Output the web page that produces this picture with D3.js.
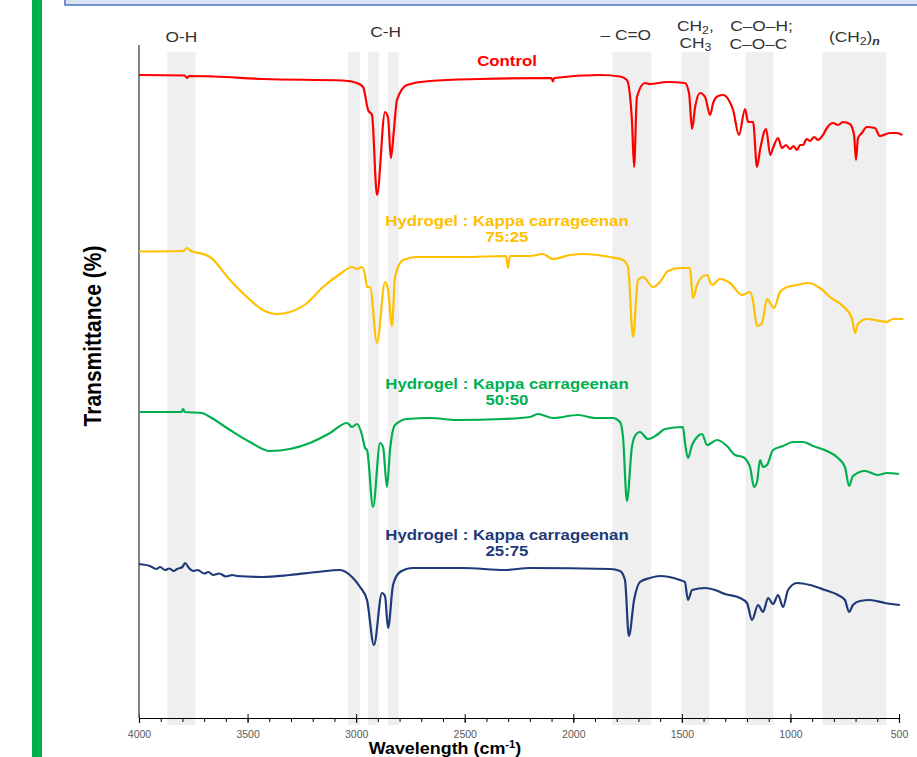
<!DOCTYPE html>
<html>
<head>
<meta charset="utf-8">
<script src="https://cdnjs.cloudflare.com/ajax/libs/d3/7.8.5/d3.min.js"></script>
<style>
  body { margin: 0; background: #fff; }
  svg { display: block; font-family: "Liberation Sans", Arial, sans-serif; }
</style>
</head>
<body>
<div id="chart"></div>
<script>
// FTIR spectra, [wavenumber cm-1, transmittance (a.u., stacked)]
var control = [
  [4000,128.6],[3790,128.5],[3779,128.0],[3770,128.4],[3659,128.3],[3429,127.8],[3061,127.5],
  [2996,127.0],[2968,126.2],[2945,121.6],[2927,120.6],[2904,104.6],[2867,121.2],[2853,120.0],
  [2840,112.0],[2826,117.6],[2812,123.6],[2766,126.6],[2660,127.4],[2430,127.8],[2100,128.0],
  [2094,127.3],[2088,128.0],[1877,128.6],[1785,128.3],[1753,127.6],[1730,119.6],[1720,110.2],
  [1707,124.2],[1670,127.0],[1647,126.8],[1569,127.2],[1486,127.0],[1467,125.0],[1453,117.8],
  [1439,122.2],[1416,125.0],[1393,124.2],[1370,120.6],[1356,123.0],[1333,124.4],[1310,124.6],
  [1287,123.8],[1264,121.6],[1237,116.6],[1209,121.8],[1195,119.2],[1172,119.2],[1154,110.2],
  [1140,113.6],[1112,117.8],[1093,112.6],[1080,114.0],[1057,116.0],[1039,114.0],[1020,114.6],
  [1002,113.8],[985,114.4],[970,113.6],[955,114.6],[942,114.6],[925,115.8],[910,115.4],
  [890,116.2],[873,115.6],[850,116.6],[832,118.0],[804,119.0],[780,118.6],[758,119.2],
  [726,118.8],[707,116.6],[698,111.6],[689,116.0],[671,117.0],[648,118.2],[611,118.0],
  [588,116.4],[542,117.0],[510,117.0],[485,116.6]
];
var ratio7525 = [
  [4000,93.3],[3797,93.4],[3779,94.0],[3760,93.4],[3705,92.8],[3673,92.2],[3581,87.6],
  [3503,84.2],[3429,81.6],[3365,80.8],[3305,81.2],[3226,83.0],[3153,86.2],[3074,88.8],
  [3019,90.2],[2996,89.8],[2973,90.2],[2959,88.6],[2950,86.2],[2936,86.2],[2904,75.0],
  [2867,87.2],[2853,85.6],[2835,78.4],[2821,88.2],[2784,91.6],[2720,92.2],[2508,92.2],
  [2310,92.4],[2301,90.0],[2292,92.4],[2199,92.4],[2140,92.8],[2094,91.8],[2015,92.6],
  [1955,92.8],[1831,92.2],[1771,91.6],[1748,90.2],[1725,76.2],[1702,87.6],[1679,88.2],
  [1633,86.2],[1601,87.2],[1564,89.4],[1509,90.0],[1463,90.0],[1449,84.0],[1430,86.6],
  [1407,88.2],[1384,88.6],[1361,86.6],[1325,87.8],[1278,87.0],[1223,84.6],[1186,85.2],
  [1173,83.6],[1154,78.4],[1131,79.0],[1108,83.8],[1076,82.0],[1048,85.2],[1016,86.2],
  [970,86.6],[919,87.0],[864,86.0],[818,84.2],[758,82.4],[717,80.0],[703,77.0],[689,78.8],
  [648,79.8],[611,79.6],[556,79.2],[528,79.8],[480,79.8]
];
var ratio5050 = [
  [4000,61.2],[3805,61.2],[3797,61.8],[3789,61.2],[3710,61.0],[3673,60.2],[3581,57.6],
  [3489,55.2],[3397,53.4],[3305,53.8],[3213,55.0],[3120,57.0],[3042,59.0],[3019,58.2],
  [2996,58.8],[2973,56.6],[2959,54.0],[2950,53.6],[2922,42.2],[2890,55.0],[2876,54.2],
  [2858,46.2],[2844,53.6],[2821,58.6],[2766,59.8],[2660,60.0],[2536,59.6],[2324,59.8],
  [2199,60.2],[2163,60.8],[2094,60.0],[1978,60.6],[1900,60.0],[1817,60.0],[1785,59.2],
  [1771,56.2],[1753,43.4],[1730,54.2],[1716,56.4],[1693,57.2],[1656,55.8],[1615,56.6],
  [1578,57.8],[1495,58.2],[1486,55.2],[1472,52.0],[1453,54.6],[1430,56.2],[1407,56.8],
  [1384,54.6],[1338,55.6],[1292,54.4],[1255,52.6],[1219,52.2],[1186,50.2],[1168,46.2],
  [1154,47.2],[1140,51.6],[1126,50.2],[1108,50.6],[1080,53.6],[1034,54.4],[988,55.2],
  [942,55.2],[896,54.4],[832,53.4],[786,52.2],[749,50.2],[730,46.4],[712,48.4],[657,49.4],
  [597,48.6],[556,49.0],[500,48.8]
];
var ratio2575 = [
  [4000,30.8],[3950,30.4],[3920,29.8],[3903,30.2],[3880,29.6],[3860,29.9],[3840,29.4],
  [3825,29.8],[3800,30.2],[3788,31.0],[3770,30.0],[3751,29.4],[3730,29.6],[3700,28.9],
  [3680,29.2],[3659,28.6],[3630,28.9],[3600,28.3],[3570,28.6],[3549,28.4],[3429,28.2],
  [3305,28.6],[3180,29.2],[3074,29.6],[3019,28.2],[2982,26.2],[2950,23.6],[2918,14.6],
  [2881,25.0],[2867,24.4],[2853,18.0],[2830,26.6],[2798,29.2],[2738,30.0],[2508,30.0],
  [2315,29.6],[2199,30.0],[1831,29.8],[1785,29.4],[1762,27.6],[1744,16.4],[1720,23.6],
  [1693,27.2],[1647,28.0],[1601,28.4],[1509,27.6],[1486,27.2],[1472,23.6],[1453,25.6],
  [1393,26.0],[1347,25.6],[1301,24.8],[1232,24.0],[1200,23.0],[1177,19.6],[1149,22.6],
  [1126,21.2],[1103,24.0],[1080,22.8],[1057,24.6],[1034,22.2],[1011,25.6],[970,27.0],
  [910,26.6],[841,25.6],[781,24.6],[749,23.6],[730,21.2],[712,22.6],[680,23.4],[634,23.6],
  [565,23.0],[496,22.6]
];

var seriesNames = ["Control", "Hydrogel : Kappa carrageenan|75:25",
                   "Hydrogel : Kappa carrageenan|50:50", "Hydrogel : Kappa carrageenan|25:75"];
var seriesColors = ["#ff0000", "#ffc000", "#00b050", "#1f3a78"];

// shaded assignment regions (cm-1)
var bands = [[3870,3740],[3037,2982],[2945,2894],[2853,2802],[1820,1641],[1502,1373],[1207,1078],[853,558]];

var xTicks = [4000, 3500, 3000, 2500, 2000, 1500, 1000, 500];

var width = 917, height = 757;
var mLeft = 139, mRight = 899, mTop = 45, mBottom = 718;

var svg = d3.select("#chart").append("svg")
  .attr("width", width)
  .attr("height", height);

// slide decoration
svg.append("rect").attr("x", 32).attr("y", 0).attr("width", 10).attr("height", height).attr("fill", "#00b050");
svg.append("rect").attr("x", 65).attr("y", -10).attr("width", 870).attr("height", 15)
  .attr("fill", "#dae3f3").attr("stroke", "#4472c4").attr("stroke-width", 1.5);

var x = d3.scaleLinear().domain([4000, 500]).range([mLeft, mRight]);
var y = d3.scaleLinear().domain([0, 134.6]).range([mBottom, mTop]);

svg.selectAll("rect.band")
  .data(bands)
  .enter().append("rect")
  .attr("class", "band")
  .attr("x", function(d) { return x(d[0]); })
  .attr("width", function(d) { return x(d[1]) - x(d[0]); })
  .attr("y", 52)
  .attr("height", mBottom + 7 - 52)
  .attr("fill", "#efefef");

// x axis
var minor = d3.axisBottom(x).tickValues(d3.range(4000, 499, -100)).tickSize(4).tickFormat("");
svg.append("g").attr("transform", "translate(0," + mBottom + ")").call(minor)
  .call(function(g) { g.select(".domain").remove(); })
  .selectAll("line").attr("stroke", "#000");

var xAxis = d3.axisBottom(x).tickValues(xTicks).tickSize(5).tickPadding(8).tickFormat(d3.format("d"));
var gx = svg.append("g").attr("transform", "translate(0," + mBottom + ")").call(xAxis);
gx.select(".domain").attr("stroke", "#000").attr("stroke-width", 1.2);
gx.selectAll(".tick line").attr("y1", -4).attr("y2", 5).attr("stroke", "#000");
gx.selectAll(".tick text").attr("font-size", 10.5).attr("fill", "#595959")
  .attr("font-family", "Liberation Sans, Arial, sans-serif");

// y axis line only
svg.append("line").attr("x1", mLeft).attr("x2", mLeft).attr("y1", mTop).attr("y2", mBottom)
  .attr("stroke", "#595959").attr("stroke-width", 1.5);

// text is a little wider than Arial in the original
var stretch = 1.12;
function wideText(cx, cy, size) {
  return svg.append("g").attr("transform", "translate(" + cx + "," + cy + ") scale(" + stretch + ",1)")
    .append("text").attr("text-anchor", "middle").attr("font-size", size);
}

var xt = wideText(445, 754, 16).attr("font-weight", "bold").attr("fill", "#000");
xt.append("tspan").text("Wavelength (cm");
xt.append("tspan").attr("dy", -6).attr("font-size", 10).text("-1");
xt.append("tspan").attr("dy", 6).text(")");

svg.append("text").attr("transform", "translate(101,336) rotate(-90) scale(1,1.1)")
  .attr("text-anchor", "middle").attr("font-size", 21).attr("font-weight", "bold")
  .attr("fill", "#000").text("Transmittance (%)");

// spectra
var line = d3.line()
  .curve(d3.curveMonotoneX)
  .x(function(d) { return x(d[0]); })
  .y(function(d) { return y(d[1]); });

var spectra = [control, ratio7525, ratio5050, ratio2575];
svg.selectAll("path.spec")
  .data(spectra)
  .enter().append("path")
  .attr("class", "spec")
  .attr("fill", "none")
  .attr("stroke", function(d, i) { return seriesColors[i]; })
  .attr("stroke-width", 2.2)
  .attr("stroke-linejoin", "round")
  .attr("d", line);

// series labels
var labelY = [66, 226, 389, 540];
seriesNames.forEach(function(name, i) {
  var t = wideText(507, labelY[i], 15).attr("font-weight", "bold").attr("fill", seriesColors[i]);
  name.split("|").forEach(function(part, j) {
    t.append("tspan").attr("x", 0).attr("y", j * 16.5).text(part);
  });
});

// band assignment labels
var col = "#333";
function lab(px, py, parts) {
  var t = wideText(px, py, 15.5).attr("fill", col);
  parts.forEach(function(p) {
    var s = t.append("tspan").text(p[0]);
    if (p[1] === "sub") s.attr("font-size", 11).attr("dy", 3);
    if (p[1] === "subi") s.attr("font-size", 11).attr("dy", 3).attr("font-style", "italic").attr("font-weight", "bold");
    if (p[1] === "up") s.attr("dy", -3);
  });
}
function mid(b) { return (x(b[0]) + x(b[1])) / 2; }
lab(mid(bands[0]), 42, [["O-H"]]);
lab(mid(bands[2]) + 12, 37, [["C-H"]]);
lab(mid(bands[4]) - 6, 40, [["\u2013 C=O"]]);
lab(mid(bands[5]), 31, [["CH"], ["2", "sub"], [",", "up"]]);
lab(mid(bands[5]), 48, [["CH"], ["3", "sub"]]);
lab(mid(bands[6]) + 2, 31, [["C\u2013O\u2013H;"]]);
lab(mid(bands[6]) - 1, 49, [["C\u2013O\u2013C"]]);
lab(mid(bands[7]), 42, [["(CH"], ["2", "sub"], [")", "up"], ["n", "subi"]]);
</script>
</body>
</html>
